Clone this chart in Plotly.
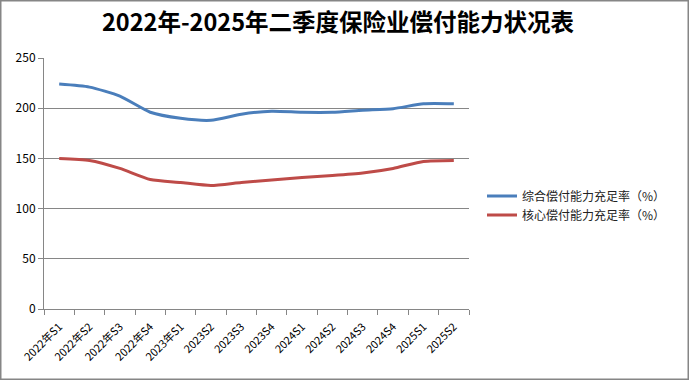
import plotly.graph_objects as go

categories = ["2022年S1", "2022年S2", "2022年S3", "2022年S4", "2023年S1", "2023S2", "2023S3",
              "2023S4", "2024S1", "2024S2", "2024S3", "2024S4", "2025S1", "2025S2"]
comprehensive = [224, 221, 212, 196, 190, 188, 194, 197, 196, 196, 198, 199.5, 204.5, 204.5]
core = [150, 148, 140, 129, 126, 123, 126, 128.5, 131, 133, 135.5, 140, 147, 148]
series_names = ["综合偿付能力充足率（%）", "核心偿付能力充足率（%）"]
y_ticks = [0, 50, 100, 150, 200, 250]

W, H = 689, 380
L, R, T, B = 44, 220, 58, 71
pw, ph = W - L - R, H - T - B

fig = go.Figure()
fig.add_trace(go.Scatter(x=categories, y=comprehensive, mode="lines", name=series_names[0],
                         line=dict(color="#4A7EBB", width=3, shape="spline", smoothing=0.6)))
fig.add_trace(go.Scatter(x=categories, y=core, mode="lines", name=series_names[1],
                         line=dict(color="#BE4B48", width=3, shape="spline", smoothing=0.6)))

font_family = "Noto Sans CJK SC, DejaVu Sans, sans-serif"
fig.update_layout(
    width=W, height=H,
    margin=dict(l=L, r=R, t=T, b=B, pad=0, autoexpand=False),
    paper_bgcolor="white", plot_bgcolor="white",
    font=dict(family=font_family, size=12, color="#000000"),
    title=dict(text="<b>2022年-2025年二季度保险业偿付能力状况表</b>", x=338 / W, xanchor="center",
               y=1 - 23 / H, yanchor="middle",
               font=dict(family=font_family, size=23.5, color="#000000")),
    showlegend=True,
    legend=dict(x=(482 - L) / pw, xanchor="left", y=(H - B - 205.5) / ph, yanchor="middle",
                font=dict(size=12, color="#222222"), bgcolor="rgba(0,0,0,0)",
                itemwidth=30, tracegroupgap=2),
    xaxis=dict(type="category", range=[-0.5, len(categories) - 0.5],
               showgrid=False, showline=True, linecolor="#868686", linewidth=1,
               ticks="outside", tickson="boundaries", ticklen=5, tickcolor="#868686",
               tickangle=-45, tickfont=dict(size=11, color="#000000"), automargin=False,
               ticklabelstandoff=6),
    yaxis=dict(range=[0, 250], tickvals=y_ticks, showgrid=True, gridcolor="#868686", gridwidth=1,
               showline=True, linecolor="#868686", linewidth=1, ticks="outside", ticklen=5,
               tickcolor="#868686", zeroline=False, tickfont=dict(size=12, color="#000000"),
               automargin=False),
    shapes=[dict(type="rect", xref="paper", yref="paper",
                 x0=(0.75 - L) / pw, x1=(W - 0.75 - L) / pw,
                 y0=(H - B - (H - 0.75)) / ph, y1=(H - B - 0.75) / ph,
                 line=dict(color="#868686", width=1.5), fillcolor="rgba(0,0,0,0)", layer="below")],
)

fig.write_html("out.html", config={"displayModeBar": False},
               post_script="document.body.style.margin='0';document.body.style.overflow='hidden';")
